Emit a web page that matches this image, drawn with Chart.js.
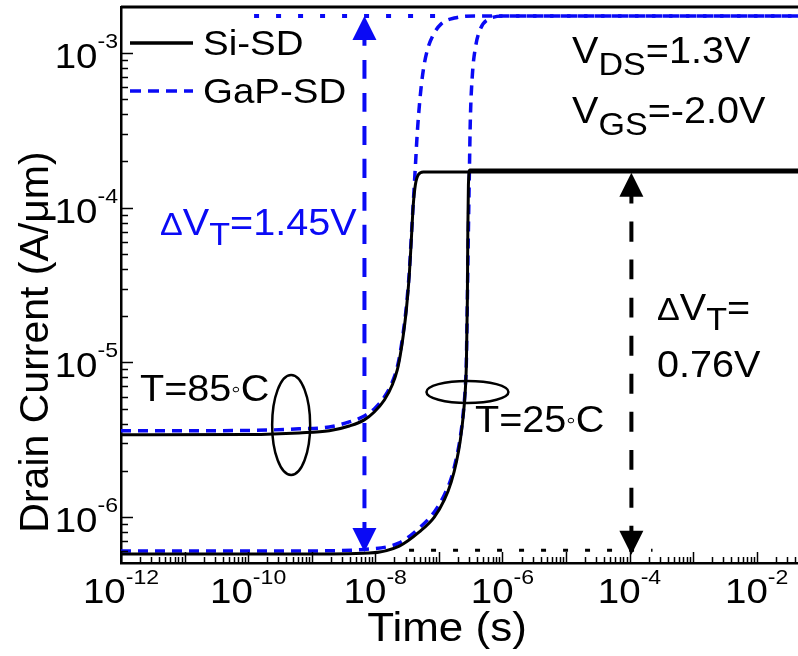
<!DOCTYPE html>
<html>
<head>
<meta charset="utf-8">
<script src="https://cdn.jsdelivr.net/npm/chart.js@4.4.1/dist/chart.umd.min.js"></script>
<style>
  html, body { margin: 0; padding: 0; background: #fff; }
  #wrap { width: 798px; height: 656px; position: relative; }
</style>
</head>
<body>
<div id="wrap"><canvas id="chart"></canvas></div>
<script>
// Si-SD, T=85C
const si85Time = [1e-12, 1.04e-10, 6.35e-10, 1.89e-9, 3.9e-9, 6.71e-9, 9.64e-9, 1.39e-8, 1.85e-8, 2.22e-8, 2.48e-8, 2.76e-8, 3.08e-8, 3.43e-8, 3.69e-8, 3.96e-8, 4.27e-8, 4.75e-8, 5.7e-8, 4.5e-2];
const si85Current = [3.40e-6, 3.42e-6, 3.50e-6, 3.61e-6, 3.88e-6, 4.25e-6, 4.78e-6, 5.71e-6, 7.14e-6, 8.93e-6, 1.12e-5, 1.50e-5, 2.18e-5, 3.67e-5, 6.18e-5, 1.04e-4, 1.40e-4, 1.63e-4, 1.70e-4, 1.70e-4];
// GaP-SD, T=85C
const gap85Time = [1e-12, 1.04e-10, 6.35e-10, 1.89e-9, 3.9e-9, 6.71e-9, 9.64e-9, 1.39e-8, 1.85e-8, 2.22e-8, 2.48e-8, 2.76e-8, 3.08e-8, 3.43e-8, 3.69e-8, 3.96e-8, 4.27e-8, 4.58e-8, 5.12e-8, 5.70e-8, 6.59e-8, 8.19e-8, 1.09e-7, 1.75e-7, 3.62e-7, 4.5e-2];
const gap85Current = [3.61e-6, 3.63e-6, 3.72e-6, 3.82e-6, 4.12e-6, 4.50e-6, 5.00e-6, 5.97e-6, 7.46e-6, 9.33e-6, 1.17e-5, 1.57e-5, 2.28e-5, 3.84e-5, 6.47e-5, 1.07e-4, 1.83e-4, 3.04e-4, 5.36e-4, 7.76e-4, 1.04e-3, 1.31e-3, 1.54e-3, 1.68e-3, 1.73e-3, 1.73e-3];
// Si-SD, T=25C
const si25Time = [1e-12, 6.35e-10, 8.05e-9, 2.39e-8, 4.93e-8, 8.49e-8, 1.22e-7, 1.57e-7, 1.89e-7, 2.18e-7, 2.43e-7, 2.61e-7, 2.71e-7, 2.81e-7, 2.86e-7, 2.92e-7, 3.08e-7, 4.5e-2];
const si25Current = [5.77e-7, 5.77e-7, 5.86e-7, 6.50e-7, 8.02e-7, 1.00e-6, 1.29e-6, 1.69e-6, 2.27e-6, 3.15e-6, 4.57e-6, 6.64e-6, 9.62e-6, 2.53e-5, 7.18e-5, 1.40e-4, 1.75e-4, 1.75e-4];
// GaP-SD, T=25C
const gap25Time = [1e-12, 6.35e-10, 8.05e-9, 2.39e-8, 4.93e-8, 8.49e-8, 1.22e-7, 1.57e-7, 1.89e-7, 2.18e-7, 2.43e-7, 2.61e-7, 2.71e-7, 2.81e-7, 2.92e-7, 3.02e-7, 3.13e-7, 3.37e-7, 3.76e-7, 4.51e-7, 6.24e-7, 1.07e-6, 4.5e-2];
const gap25Current = [6.04e-7, 6.04e-7, 6.22e-7, 6.81e-7, 8.51e-7, 1.08e-6, 1.39e-6, 1.79e-6, 2.41e-6, 3.30e-6, 4.78e-6, 6.93e-6, 1.01e-5, 2.53e-5, 7.18e-5, 1.63e-4, 3.69e-4, 7.21e-4, 1.08e-3, 1.43e-3, 1.66e-3, 1.73e-3, 1.73e-3];

// guide lines for the threshold shift arrows
const gapOnTime = [1.24e-10, 1.23e-7];
const gapOnCurrent = [1.73e-3, 1.73e-3];
const siOffTime = [3.4e-8, 2.3e-4];
const siOffCurrent = [6.1e-7, 6.1e-7];
const blueArrowTime = [6.76e-9, 6.76e-9];
const blueArrowCurrent = [1.73e-3, 5.94e-7];
const blackArrowTime = [1.07e-4, 1.07e-4];
const blackArrowCurrent = [1.68e-4, 5.7e-7];

// ellipses marking the two temperatures: [time, current]
const ellipse85 = [4.75e-10, 3.94e-6];
const ellipse25 = [2.82e-7, 6.44e-6];

const xTickExps = [-12, -10, -8, -6, -4, -2];
const yTickExps = [-6, -5, -4, -3];

const FONT = '"Liberation Sans", Arial, sans-serif';
const BLUE = '#0a0af5';
const SX = 1.1; // the original lettering is a little wide

function pts(xs, ys) {
  return xs.map((x, i) => ({x: x, y: ys[i]}));
}

// parts: [text, size, dy, color]
function rich(ctx, parts, x, y, align) {
  let w = 0;
  parts.forEach(p => { ctx.font = p[1] + 'px ' + FONT; w += ctx.measureText(p[0]).width * SX; });
  let cx = align === 'center' ? x - w / 2 : align === 'right' ? x - w : x;
  parts.forEach(p => {
    ctx.font = p[1] + 'px ' + FONT;
    ctx.fillStyle = p[3] || '#000';
    ctx.save();
    ctx.translate(cx, y + (p[2] || 0));
    ctx.scale(SX, 1);
    ctx.fillText(p[0], 0, 0);
    ctx.restore();
    cx += ctx.measureText(p[0]).width * SX;
  });
}

function arrowHead(ctx, x, y, dir, color) {
  // tip at (x, y); dir = -1 points up, 1 points down
  ctx.beginPath();
  ctx.moveTo(x, y);
  ctx.lineTo(x - 12, y - dir * 24);
  ctx.lineTo(x + 12, y - dir * 24);
  ctx.closePath();
  ctx.fillStyle = color;
  ctx.fill();
}

const decor = {
  id: 'decor',
  afterDatasetsDraw(chart) {
    const {ctx, chartArea: a, scales: {x, y}} = chart;
    ctx.save();
    ctx.textBaseline = 'alphabetic';
    ctx.textAlign = 'left';

    // top frame line
    ctx.strokeStyle = '#000';
    ctx.lineWidth = 3;
    ctx.beginPath();
    ctx.moveTo(a.left, a.top);
    ctx.lineTo(a.right, a.top);
    ctx.stroke();

    // inward ticks
    ctx.lineWidth = 1.5;
    for (let e = -12; e <= -1; e++) {
      for (let k = 1; k <= 9; k++) {
        const v = k * Math.pow(10, e);
        if (v < x.min || v > x.max) continue;
        const px = Math.round(x.getPixelForValue(v)) + 0.5;
        const len = k === 1 ? 11 : 6;
        ctx.beginPath();
        ctx.moveTo(px, a.bottom);
        ctx.lineTo(px, a.bottom - len);
        ctx.stroke();
      }
    }
    for (let e = -7; e <= -2; e++) {
      for (let k = 1; k <= 9; k++) {
        const v = k * Math.pow(10, e);
        if (v < y.min || v > y.max) continue;
        const py = Math.round(y.getPixelForValue(v)) + 0.5;
        const len = k === 1 ? 12 : 7;
        ctx.beginPath();
        ctx.moveTo(a.left, py);
        ctx.lineTo(a.left + len, py);
        ctx.stroke();
      }
    }

    // tick labels
    xTickExps.forEach(e => {
      const px = x.getPixelForValue(Math.pow(10, e));
      rich(ctx, [['10', 35], [String(e), 21, -19]], px, 603, 'center');
    });
    yTickExps.forEach(e => {
      const py = y.getPixelForValue(Math.pow(10, e));
      rich(ctx, [['10', 35], [String(e), 21, -20]], 118, py + 15, 'right');
    });

    // axis titles
    rich(ctx, [['Time (s)', 40]], 447, 641, 'center');
    ctx.save();
    ctx.translate(48, 342);
    ctx.rotate(-Math.PI / 2);
    ctx.font = '41px ' + FONT;
    ctx.fillStyle = '#000';
    ctx.textAlign = 'center';
    ctx.fillText('Drain Current (A/\u03bcm)', 0, 0);
    ctx.restore();

    // legend
    ctx.lineWidth = 3.5;
    ctx.strokeStyle = '#000';
    ctx.beginPath(); ctx.moveTo(130, 43); ctx.lineTo(193, 43); ctx.stroke();
    ctx.strokeStyle = BLUE;
    ctx.setLineDash([11, 7]);
    ctx.beginPath(); ctx.moveTo(130, 91); ctx.lineTo(193, 91); ctx.stroke();
    ctx.setLineDash([]);
    rich(ctx, [['Si-SD', 35]], 203, 55);
    rich(ctx, [['GaP-SD', 35]], 203, 103);

    // bias conditions
    rich(ctx, [['V', 36], ['DS', 31, 12], ['=1.3V', 36]], 572, 63);
    rich(ctx, [['V', 36], ['GS', 31, 12], ['=-2.0V', 36]], 572, 123);

    // threshold shifts
    rich(ctx, [['\u0394', 31, 0, BLUE], ['V', 36, 0, BLUE], ['T', 31, 10, BLUE], ['=1.45V', 36, 0, BLUE]], 160, 235);
    rich(ctx, [['\u0394', 31], ['V', 36], ['T', 31, 10], ['=', 36]], 657, 320);
    rich(ctx, [['0.76V', 36]], 657, 377);

    // temperature labels
    rich(ctx, [['T=85', 36], ['\u25e6', 24, -4], ['C', 36]], 140, 401);
    rich(ctx, [['T=25', 36], ['\u25e6', 24, -4], ['C', 36]], 475, 432);

    // ellipses
    ctx.strokeStyle = '#000';
    ctx.lineWidth = 2.5;
    let ex = x.getPixelForValue(ellipse85[0]), ey = y.getPixelForValue(ellipse85[1]);
    ctx.beginPath(); ctx.ellipse(ex, ey, 19, 50, 0, 0, Math.PI * 2); ctx.stroke();
    ex = x.getPixelForValue(ellipse25[0]); ey = y.getPixelForValue(ellipse25[1]);
    ctx.beginPath(); ctx.ellipse(ex, ey, 41, 11, 0, 0, Math.PI * 2); ctx.stroke();

    // arrow heads
    let ax = x.getPixelForValue(blueArrowTime[0]);
    arrowHead(ctx, ax, y.getPixelForValue(blueArrowCurrent[0]), -1, BLUE);
    arrowHead(ctx, ax, y.getPixelForValue(blueArrowCurrent[1]), 1, BLUE);
    ax = x.getPixelForValue(blackArrowTime[0]);
    arrowHead(ctx, ax, y.getPixelForValue(blackArrowCurrent[0]), -1, '#000');
    arrowHead(ctx, ax, y.getPixelForValue(blackArrowCurrent[1]), 1, '#000');

    ctx.restore();
  }
};

const solid = (data, w) => ({data: data, borderColor: '#000', borderWidth: w, pointRadius: 0, fill: false, cubicInterpolationMode: 'monotone'});
const dashed = (data, color, w, dash) => ({data: data, borderColor: color, borderWidth: w, borderDash: dash, pointRadius: 0, fill: false, cubicInterpolationMode: 'monotone'});

new Chart(document.getElementById('chart'), {
  type: 'line',
  data: {
    datasets: [
      dashed(pts(gapOnTime, gapOnCurrent), BLUE, 4, [5, 17]),
      dashed(pts(siOffTime, siOffCurrent), '#000', 3, [5, 17]),
      dashed(pts(blueArrowTime, [blueArrowCurrent[0] * 0.85, blueArrowCurrent[1] * 1.1]), BLUE, 4, [19, 14]),
      dashed(pts(blackArrowTime, [blackArrowCurrent[0] * 0.85, blackArrowCurrent[1] * 1.1]), '#000', 4, [20, 18]),
      solid(pts(si85Time, si85Current), 3),
      solid(pts(si25Time, si25Current), 3),
      dashed(pts(gap85Time, gap85Current), BLUE, 3.5, [10, 7]),
      dashed(pts(gap25Time, gap25Current), BLUE, 3.5, [10, 7])
    ]
  },
  options: {
    responsive: true,
    maintainAspectRatio: false,
    animation: false,
    layout: {padding: {top: 7, right: 0, left: 0, bottom: 0}},
    plugins: {legend: {display: false}, tooltip: {enabled: false}},
    scales: {
      x: {
        type: 'logarithmic', min: 1e-12, max: 4.47e-2,
        grid: {display: false, drawTicks: false},
        ticks: {display: false},
        border: {display: true, color: '#000', width: 2.5},
        afterFit: s => { s.height = 93; }
      },
      y: {
        type: 'logarithmic', min: 5.05e-7, max: 1.98e-3,
        grid: {display: false, drawTicks: false},
        ticks: {display: false},
        border: {display: true, color: '#000', width: 2.5},
        afterFit: s => { s.width = 121; }
      }
    }
  },
  plugins: [decor]
});
</script>
</body>
</html>
